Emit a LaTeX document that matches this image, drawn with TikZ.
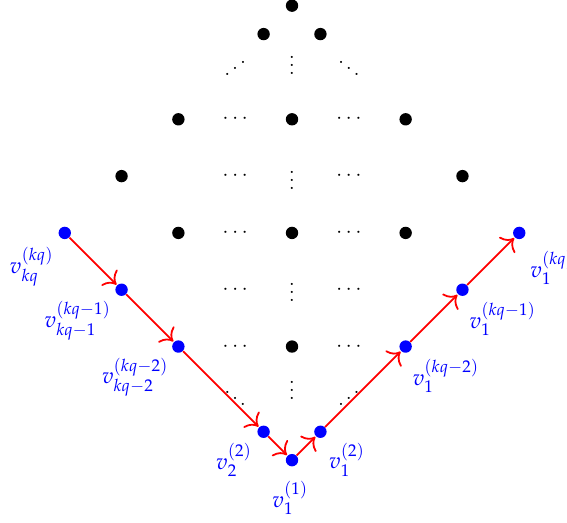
\documentclass[tikz,border=0pt]{standalone}
\usepackage{mathpazo}
\usetikzlibrary{arrows.meta}
\begin{document}
\begin{tikzpicture}[x=1cm,y=1cm,
  bdot/.style={circle,fill=black,inner sep=0pt,minimum size=6.2pt},
  vdot/.style={circle,fill=blue,inner sep=0pt,minimum size=6.2pt},
  lab/.style={text=blue,inner sep=0pt,scale=1.12},
  dd/.style={inner sep=0pt},
  path/.style={draw=red,line width=0.9pt,-{To[scale=1.5]},shorten >=0.3pt}]
\useasboundingbox (-5.14,-1.09) rectangle (4.84,8.1);
% black lattice points
\node[bdot] (t) at (0,8) {};
\node[bdot] (a1) at (-0.5,7.5) {};
\node[bdot] (a2) at (0.5,7.5) {};
\node[bdot] (b1) at (-2,6) {};
\node[bdot] (b2) at (0,6) {};
\node[bdot] (b3) at (2,6) {};
\node[bdot] (c1) at (-3,5) {};
\node[bdot] (c2) at (3,5) {};
\node[bdot] (d1) at (-2,4) {};
\node[bdot] (d2) at (0,4) {};
\node[bdot] (d3) at (2,4) {};
\node[bdot] (e1) at (0,2) {};
% dots
\node[dd] (g1) at (-1,7.0) {\reflectbox{$\ddots$}};
\node[dd] (g2) at (0,7.05) {$\vdots$};
\node[dd] (g3) at (1,7.0) {$\ddots$};
\node[dd] (h1) at (-1,6) {$\cdots$};
\node[dd] (h2) at (1,6) {$\cdots$};
\node[dd] (i1) at (-1,5) {$\cdots$};
\node[dd] (i2) at (0,5.03) {$\vdots$};
\node[dd] (i3) at (1,5) {$\cdots$};
\node[dd] (j1) at (-1,4) {$\cdots$};
\node[dd] (j2) at (1,4) {$\cdots$};
\node[dd] (k1) at (-1,3) {$\cdots$};
\node[dd] (k2) at (0,3.05) {$\vdots$};
\node[dd] (k3) at (1,3) {$\cdots$};
\node[dd] (l1) at (-1,2) {$\cdots$};
\node[dd] (l2) at (1,2) {$\cdots$};
\node[dd] (m1) at (-1,1.2) {$\ddots$};
\node[dd] (m2) at (0,1.34) {$\vdots$};
\node[dd] (m3) at (1,1.2) {\reflectbox{$\ddots$}};
% blue path vertices
\node[vdot] (p1) at (-4,4) {};
\node[vdot] (p2) at (-3,3) {};
\node[vdot] (p3) at (-2,2) {};
\node[vdot] (p4) at (-0.5,0.5) {};
\node[vdot] (p5) at (0,0) {};
\node[vdot] (p6) at (0.5,0.5) {};
\node[vdot] (p7) at (2,2) {};
\node[vdot] (p8) at (3,3) {};
\node[vdot] (p9) at (4,4) {};
% labels
\node[lab] (q1) at (-4.58,3.40) {$v_{kq}^{(kq)}$};
\node[lab] (q2) at (-3.77,2.45) {$v_{kq-1}^{(kq-1)}$};
\node[lab] (q3) at (-2.76,1.46) {$v_{kq-2}^{(kq-2)}$};
\node[lab] (q4) at (-1.02,0.0) {$v_{2}^{(2)}$};
\node[lab] (q5) at (-0.03,-0.67) {$v_{1}^{(1)}$};
\node[lab] (q6) at (0.97,0.0) {$v_{1}^{(2)}$};
\node[lab] (q7) at (2.71,1.48) {$v_{1}^{(kq-2)}$};
\node[lab] (q8) at (3.71,2.48) {$v_{1}^{(kq-1)}$};
\node[lab] (q9) at (4.58,3.38) {$v_{1}^{(kq)}$};
% red path
\draw[path] (p1) -- (p2);
\draw[path] (p2) -- (p3);
\draw[path] (p3) -- (p4);
\draw[path] (p4) -- (p5);
\draw[path] (p5) -- (p6);
\draw[path] (p6) -- (p7);
\draw[path] (p7) -- (p8);
\draw[path] (p8) -- (p9);
\end{tikzpicture}
\end{document}
